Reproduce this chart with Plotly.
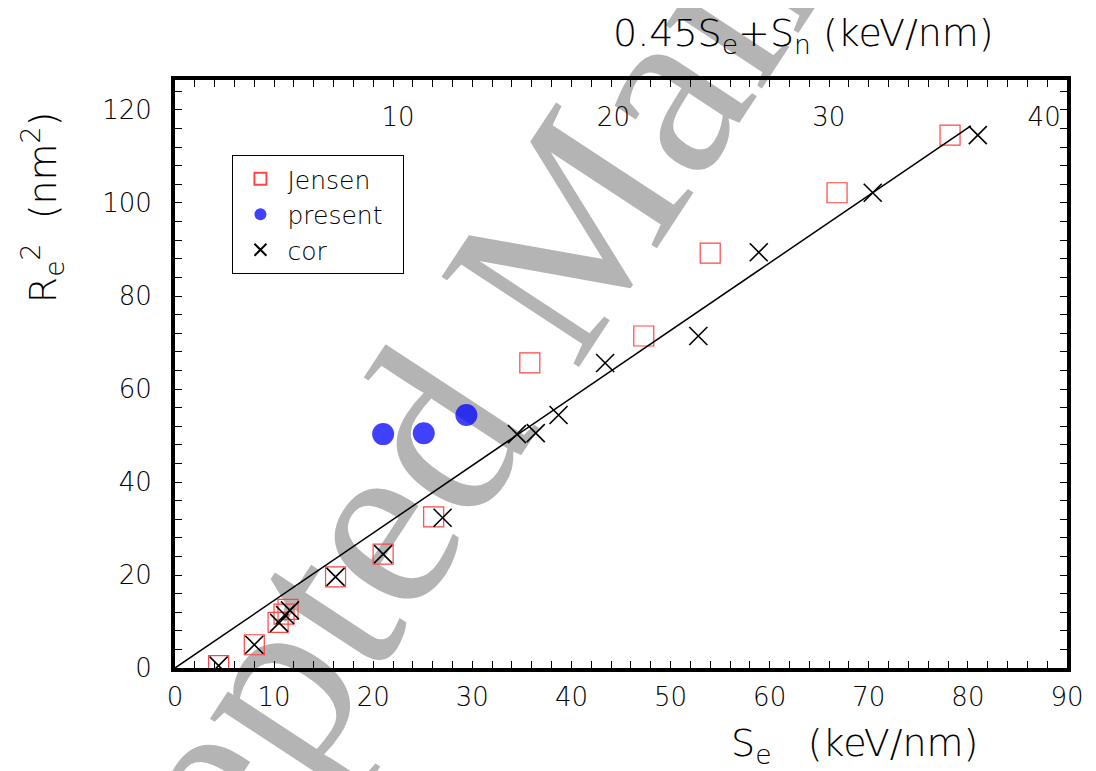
import plotly.graph_objects as go

# ---------------- data ----------------
jensen_se = [4.4, 8.0, 10.4, 11.0, 11.4, 16.2, 21.0, 26.1, 35.8, 47.3, 54.0, 66.8, 78.2]
jensen_r2 = [0.5, 5.0, 9.8, 11.6, 12.6, 19.6, 24.5, 32.5, 65.6, 71.4, 89.2, 102.2, 114.6]

present_se = [21.0, 25.1, 29.4]
present_r2 = [50.3, 50.5, 54.4]

cor_se = [4.4, 8.0, 10.5, 11.1, 11.6, 16.2, 21.0, 27.0, 34.5, 36.4, 38.7, 43.4, 52.8, 58.9, 70.4, 81.0]
cor_r2 = [0.5, 5.0, 9.7, 11.4, 12.4, 19.6, 24.5, 32.3, 50.3, 50.5, 54.4, 65.6, 71.4, 89.4, 102.2, 114.6]

fit_se = [0.0, 80.3]
fit_r2 = [0.0, 116.6]

top_ticks = [10, 20, 30, 40]
top_range = [-0.354, 41.06]

FONT = "DejaVu Sans"
W = 200
NB = "\u00a0"

fig = go.Figure()

fig.add_trace(go.Scatter(
    x=jensen_se, y=jensen_r2, mode="markers", name="Jensen",
    marker=dict(symbol="square-open", size=20, color="rgb(255,70,70)",
                line=dict(width=1.2, color="rgb(255,70,70)")),
))
fig.add_trace(go.Scatter(
    x=present_se, y=present_r2, mode="markers", name="present" + NB * 2,
    marker=dict(symbol="circle", size=22, color="rgba(0,0,255,0.75)",
                line=dict(width=0)),
))
fig.add_trace(go.Scatter(
    x=cor_se, y=cor_r2, mode="markers", name="cor",
    marker=dict(symbol="x-thin-open", size=18, color="black",
                line=dict(width=1.6, color="black")),
))
fig.add_trace(go.Scatter(
    x=fit_se, y=fit_r2, mode="lines", showlegend=False,
    line=dict(color="black", width=1.5),
))
# invisible trace to carry the top axis
fig.add_trace(go.Scatter(
    x=top_range, y=[None, None], xaxis="x2", mode="markers",
    showlegend=False, hoverinfo="skip",
))

tickfont = dict(family=FONT, size=26, weight=W, color="black")

fig.update_layout(
    width=1088, height=763,
    margin=dict(l=167, r=21, t=72, b=103),
    paper_bgcolor="white", plot_bgcolor="white",
    font=dict(family=FONT, size=26, color="black", weight=W),
    xaxis=dict(
        range=[0, 90], dtick=10, tick0=0,
        ticks="inside", ticklen=7, tickwidth=1, tickcolor="black",
        minor=dict(dtick=2, ticks="inside", ticklen=7, tickwidth=1, tickcolor="black"),
        showline=True, linewidth=4, linecolor="black", mirror="allticks",
        showgrid=False, zeroline=False,
        tickfont=tickfont, ticklabelstandoff=3,
    ),
    xaxis2=dict(
        overlaying="x", side="top", anchor="free", position=0.913,
        range=top_range, tickvals=top_ticks, ticks="",
        showline=False, showgrid=False, zeroline=False,
        tickfont=tickfont, ticklabelstandoff=0,
    ),
    yaxis=dict(
        range=[0, 126.45], dtick=20, tick0=0,
        ticks="inside", ticklen=7, tickwidth=1, tickcolor="black",
        minor=dict(dtick=4, ticks="inside", ticklen=7, tickwidth=1, tickcolor="black"),
        showline=True, linewidth=4, linecolor="black", mirror="allticks",
        showgrid=False, zeroline=False,
        tickfont=tickfont, ticklabelstandoff=14,
    ),
    legend=dict(
        x=0.0644, y=0.8724, xanchor="left", yanchor="top",
        bgcolor="white", bordercolor="black", borderwidth=1,
        font=dict(family=FONT, size=25, weight=W), itemsizing="constant",
        itemwidth=44,
    ),
)

# watermark (below the data)
cx, cy = 0.3844, 0.7007
fig.add_shape(
    type="line", xref="paper", yref="paper",
    x0=cx - 0.02, y0=cy - 0.03, x1=cx + 0.02, y1=cy + 0.03,
    line=dict(color="rgba(0,0,0,0)", width=0), layer="below",
    label=dict(text="Accepted Manuscript", textposition="middle",
               textangle=-56.7, xanchor="center", yanchor="middle",
               font=dict(family="Liberation Serif", size=251, color="#b4b4b4")),
)

titlefont = dict(family=FONT, size=38, weight=W, color="black")
# axis titles
fig.add_annotation(
    text="S<sub>e</sub>   (keV/nm)", xref="paper", yref="paper",
    x=(987 - 175) / 900, y=(668 - 745) / 588, xanchor="right", yanchor="middle",
    showarrow=False, font=titlefont,
)
fig.add_annotation(
    text="0.45S<sub>e</sub>+S<sub>n</sub> (keV/nm)", xref="paper", yref="paper",
    x=(1003 - 175) / 900, y=(668 - 35) / 588, xanchor="right", yanchor="middle",
    showarrow=False, font=titlefont,
)
fig.add_annotation(
    text="R<sub>e</sub><sup>2</sup>  (nm<sup>2</sup>)", xref="paper", yref="paper",
    x=(42 - 175) / 900, y=(668 - 207) / 588, xanchor="center", yanchor="middle",
    textangle=-90, showarrow=False, font=titlefont,
)

fig.write_html("out.html")
